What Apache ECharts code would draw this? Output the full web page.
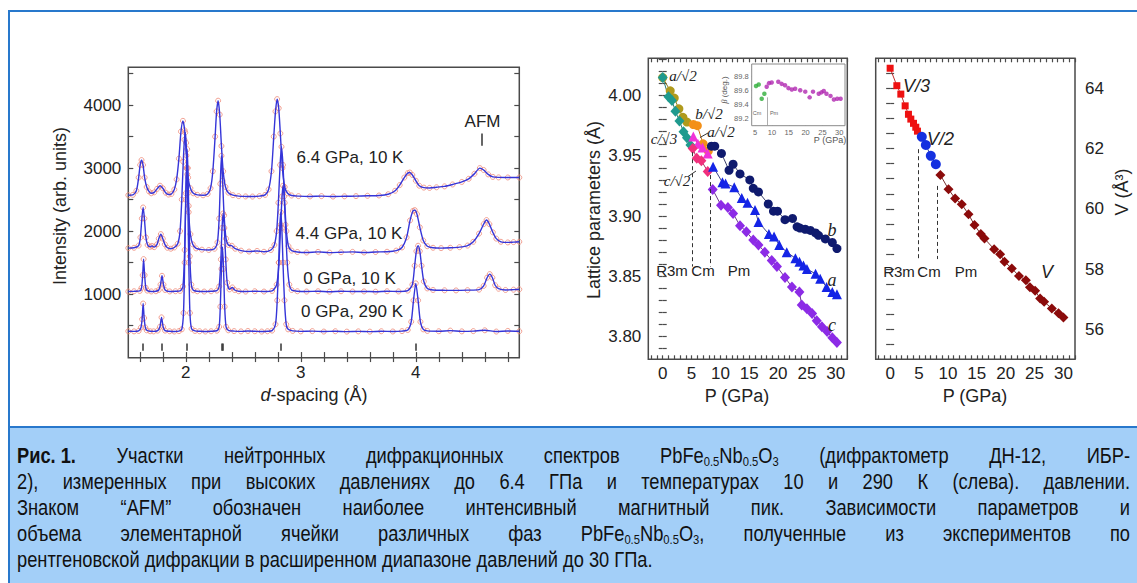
<!DOCTYPE html>
<html><head><meta charset="utf-8">
<script src="https://cdn.jsdelivr.net/npm/echarts@6/dist/echarts.min.js"></script>
<style>
html,body{margin:0;padding:0;background:#fff;width:1137px;height:583px;overflow:hidden;}
#frame{position:absolute;left:8px;top:10px;width:1140px;height:600px;border:2px solid #2878cc;box-sizing:border-box;}
#chart{position:absolute;left:0;top:0;width:1137px;height:425px;}
#cap{position:absolute;left:8px;top:426px;width:1140px;height:170px;background:#a3cff8;border-top:2px solid #2878cc;border-left:2px solid #2878cc;box-sizing:border-box;padding:15px 0 0 7px;font-family:"Liberation Sans",Arial,sans-serif;font-size:22px;line-height:26px;color:#111;}
#capin{width:1341px;transform:scaleX(0.83);transform-origin:0 0;}
.l{width:1341px;text-align:justify;text-align-last:justify;}
.last{width:1341px;text-align:left;}
.ib{display:inline-block;}
sub{font-size:13.5px;vertical-align:-3px;line-height:0;}
</style></head>
<body>
<div id="frame"></div>
<div id="chart"></div>
<div id="cap"><div id="capin">
<div class="l"><b class="ib">Рис. 1.</b> Участки нейтронных дифракционных спектров PbFe<sub>0.5</sub>Nb<sub>0.5</sub>O<sub>3</sub> (дифрактометр ДН-12, ИБР-</div>
<div class="l">2), измеренных при высоких давлениях до 6.4 ГПа и температурах 10 и 290 К (слева). давлении.</div>
<div class="l">Знаком “AFM” обозначен наиболее интенсивный магнитный пик. Зависимости параметров и</div>
<div class="l">объема элементарной ячейки различных фаз PbFe<sub>0.5</sub>Nb<sub>0.5</sub>O<sub>3</sub>, полученные из экспериментов по</div>
<div class="last">рентгеновской дифракции в расширенном диапазоне давлений до 30 ГПа.</div>
</div></div>
<script>
// ---------- Left panel: neutron diffraction profiles, [d-spacing (Å), intensity] ----------
const prof290K = [[1.50,410],[1.55,408],[1.59,415],[1.61,470],[1.62,600],[1.629,850],[1.638,620],[1.648,470],[1.66,425],[1.69,410],[1.72,408],[1.755,420],[1.775,480],[1.789,630],[1.803,480],[1.82,420],[1.86,410],[1.90,406],[1.94,412],[1.965,440],[1.98,700],[1.99,1500],[2.0,2600],[2.008,3000],[2.016,2600],[2.026,1500],[2.036,700],[2.05,450],[2.08,415],[2.12,410],[2.17,406],[2.22,410],[2.27,418],[2.29,480],[2.30,800],[2.31,1400],[2.319,1750],[2.328,1400],[2.338,800],[2.35,480],[2.37,425],[2.42,412],[2.48,408],[2.54,414],[2.6,410],[2.66,405],[2.71,410],[2.75,420],[2.78,520],[2.795,900],[2.808,1500],[2.817,2050],[2.826,2300],[2.835,2050],[2.845,1500],[2.858,900],[2.873,520],[2.89,440],[2.93,415],[3.0,408],[3.1,412],[3.2,405],[3.3,410],[3.4,404],[3.5,408],[3.6,404],[3.7,410],[3.8,406],[3.88,412],[3.93,430],[3.96,560],[3.98,900],[4.0,1170],[4.02,900],[4.04,560],[4.065,440],[4.1,415],[4.2,410],[4.3,420],[4.4,408],[4.5,412],[4.6,425],[4.7,405],[4.8,415],[4.9,410]];
const prof0GPa10K = [[1.50,1040],[1.55,1045],[1.60,1050],[1.615,1100],[1.625,1300],[1.633,1555],[1.642,1300],[1.652,1100],[1.665,1055],[1.70,1042],[1.74,1045],[1.765,1065],[1.78,1150],[1.793,1290],[1.806,1150],[1.82,1065],[1.86,1042],[1.91,1045],[1.95,1050],[1.975,1120],[1.99,1700],[2.0,2500],[2.006,3000],[2.012,3300],[2.018,3000],[2.025,2400],[2.035,1600],[2.048,1150],[2.065,1060],[2.1,1045],[2.16,1040],[2.22,1045],[2.27,1055],[2.29,1120],[2.305,1550],[2.315,2050],[2.325,2280],[2.335,2050],[2.347,1550],[2.36,1180],[2.38,1075],[2.405,1105],[2.425,1065],[2.46,1045],[2.52,1040],[2.6,1045],[2.68,1040],[2.75,1050],[2.79,1150],[2.81,1500],[2.825,2100],[2.837,2550],[2.846,2720],[2.855,2550],[2.867,2100],[2.882,1500],[2.9,1150],[2.92,1065],[2.97,1045],[3.05,1040],[3.15,1045],[3.25,1038],[3.35,1045],[3.45,1040],[3.55,1042],[3.65,1038],[3.75,1045],[3.85,1042],[3.93,1055],[3.97,1150],[3.99,1450],[4.005,1680],[4.02,1767],[4.035,1680],[4.05,1450],[4.07,1200],[4.1,1090],[4.15,1065],[4.25,1060],[4.35,1058],[4.45,1062],[4.55,1070],[4.59,1130],[4.62,1260],[4.643,1317],[4.666,1260],[4.69,1140],[4.72,1085],[4.78,1065],[4.85,1070],[4.9,1075]];
const prof44GPa10K = [[1.50,1730],[1.55,1735],[1.59,1770],[1.605,1900],[1.618,2200],[1.629,2375],[1.64,2200],[1.653,1900],[1.668,1780],[1.69,1750],[1.705,1765],[1.725,1745],[1.75,1790],[1.765,1880],[1.783,1952],[1.80,1880],[1.818,1790],[1.84,1735],[1.87,1720],[1.90,1740],[1.93,1800],[1.95,2000],[1.965,2500],[1.978,3100],[1.988,3450],[1.995,3565],[2.003,3400],[2.013,2900],[2.025,2300],[2.04,1950],[2.06,1790],[2.09,1725],[2.14,1705],[2.2,1700],[2.25,1720],[2.275,1820],[2.29,2200],[2.3,2750],[2.31,3195],[2.32,2800],[2.333,2250],[2.35,1880],[2.37,1780],[2.4,1767],[2.43,1720],[2.48,1690],[2.55,1675],[2.62,1685],[2.68,1672],[2.74,1700],[2.77,1780],[2.79,2000],[2.805,2450],[2.82,3050],[2.832,3338],[2.845,3050],[2.86,2450],[2.875,2000],[2.893,1760],[2.92,1690],[2.97,1668],[3.05,1660],[3.15,1670],[3.25,1658],[3.35,1665],[3.45,1670],[3.55,1660],[3.65,1668],[3.75,1672],[3.83,1690],[3.88,1740],[3.92,1900],[3.95,2170],[3.975,2320],[3.991,2333],[4.01,2270],[4.035,2060],[4.065,1850],[4.1,1760],[4.15,1735],[4.22,1730],[4.3,1735],[4.38,1745],[4.45,1770],[4.5,1830],[4.55,1960],[4.59,2110],[4.615,2175],[4.64,2110],[4.67,1980],[4.7,1880],[4.74,1830],[4.8,1820],[4.85,1825],[4.9,1830]];
const prof64GPa10K = [[1.50,2570],[1.54,2575],[1.57,2640],[1.59,2850],[1.603,3050],[1.615,3127],[1.628,3050],[1.642,2850],[1.66,2700],[1.68,2630],[1.70,2600],[1.725,2615],[1.75,2670],[1.776,2720],[1.80,2680],[1.825,2610],[1.85,2580],[1.875,2590],[1.9,2660],[1.92,2820],[1.94,3150],[1.958,3580],[1.975,3750],[1.99,3600],[2.005,3200],[2.02,2850],[2.04,2680],[2.065,2600],[2.1,2575],[2.15,2568],[2.19,2590],[2.215,2680],[2.235,2950],[2.255,3500],[2.268,3900],[2.281,4070],[2.295,3850],[2.31,3350],[2.325,2950],[2.345,2700],[2.37,2610],[2.41,2570],[2.46,2555],[2.52,2550],[2.58,2548],[2.64,2555],[2.69,2575],[2.72,2660],[2.745,2950],[2.765,3500],[2.78,3900],[2.794,4095],[2.808,3950],[2.822,3550],[2.84,3000],[2.86,2700],[2.885,2600],[2.92,2565],[2.98,2555],[3.08,2550],[3.18,2555],[3.28,2548],[3.38,2552],[3.48,2555],[3.58,2560],[3.68,2565],[3.76,2585],[3.82,2640],[3.86,2730],[3.9,2850],[3.93,2920],[3.948,2930],[3.97,2890],[4.0,2800],[4.03,2720],[4.07,2690],[4.12,2685],[4.18,2695],[4.25,2710],[4.32,2740],[4.4,2780],[4.46,2830],[4.51,2910],[4.557,3000],[4.59,2970],[4.63,2900],[4.67,2860],[4.72,2852],[4.8,2851],[4.9,2850]];
const braggD = [1.629,1.789,2.006,2.312,2.322,2.826,4.0];
const braggI = [100,216];
const afmD = 4.577, afmI = [3354,3549];
const xTickLabels0 = [2,3,4];
const yTickLabels0 = [1000,2000,3000,4000];

// ---------- Middle panel: lattice parameters (Å) vs P (GPa) ----------
const r3mA = [[0,4.015],[1.3,4.004],[2.0,3.998],[2.8,3.989],[3.5,3.982],[4.2,3.978]];      // a/√2
const r3mC = [[0,4.015],[1.0,3.999],[1.6,3.996],[2.2,3.987],[2.9,3.979],[3.6,3.970],[4.2,3.965],[4.8,3.959]]; // c/√3
const cmB = [[5.3,3.976],[6.0,3.975],[7.0,3.960],[7.9,3.954]];   // b/√2
const cmA = [[5.3,3.966],[6.1,3.960],[6.9,3.957],[7.8,3.952]];   // a/√2
const cmC = [[5.2,3.956],[5.9,3.948],[6.7,3.946],[7.8,3.937]];   // c/√2
const pmB = [[8.44,3.958],[9.02,3.958],[10.18,3.952],[11.5,3.938],[12.2,3.943],[13.4,3.935],[15.1,3.930],[15.7,3.923],[16.6,3.920],[18.3,3.910],[19.2,3.904],[19.9,3.904],[21.2,3.897],[22.5,3.898],[23.3,3.891],[23.8,3.890],[24.7,3.889],[25.6,3.888],[26.5,3.886],[27.0,3.884],[28.2,3.881],[29.4,3.878],[30.2,3.873]];
const pmA = [[8.73,3.941],[10.35,3.928],[10.9,3.927],[12.4,3.924],[13.7,3.915],[14.7,3.911],[16.0,3.905],[16.6,3.895],[18.4,3.885],[19.3,3.883],[20.2,3.876],[21.5,3.870],[23.0,3.865],[23.7,3.862],[24.4,3.859],[25.0,3.856],[26.5,3.852],[27.3,3.848],[28.4,3.841],[29.4,3.837],[30.2,3.835]];
const pmC = [[8.67,3.922],[10.1,3.909],[11.3,3.907],[12.2,3.902],[13.4,3.892],[14.5,3.887],[15.7,3.880],[16.6,3.876],[17.7,3.870],[18.9,3.863],[19.8,3.858],[21.2,3.849],[22.4,3.841],[23.7,3.837],[24.1,3.826],[25.0,3.823],[25.9,3.819],[26.7,3.813],[27.6,3.808],[28.5,3.804],[29.4,3.799],[30.2,3.795]];
const latPhaseLines = [[5.2,3.953,3.858],[8.3,3.934,3.858]];
const pTickLabels = [0,5,10,15,20,25,30];
const latTickLabels = [3.80,3.85,3.90,3.95,4.00];

// ---------- Inset: monoclinic angle beta (deg.) vs P ----------
const betaCm = [[5.28,89.66],[6.08,89.68],[6.97,89.48],[7.76,89.55]];
const betaPm = [[8.45,89.65],[9.14,89.70],[9.93,89.71],[11.9,89.72],[12.9,89.69],[13.9,89.67],[14.9,89.63],[15.9,89.61],[16.9,89.62],[18.4,89.60],[19.9,89.58],[21.2,89.50],[22.2,89.58],[23.9,89.55],[24.7,89.57],[25.4,89.59],[26.2,89.55],[27.4,89.52],[28.4,89.47],[29.4,89.48],[30.4,89.48]];
const insetXLabels = [5,10,15,20,25,30];
const insetYLabels = [89.2,89.4,89.6,89.8];

// ---------- Right panel: unit-cell volume (Å^3) vs P ----------
const volR3m = [[0,64.67],[1.16,64.09],[1.85,63.81],[2.6,63.42],[3.17,63.14],[3.58,62.98],[4.04,62.84],[4.44,62.71],[4.73,62.58]]; // V/3
const volCm = [[5.48,62.39],[6.18,62.12],[7.04,61.76],[7.91,61.48]]; // V/2
const volPm = [[8.7,61.12],[10.1,60.65],[11.25,60.34],[12.4,60.15],[13.56,59.82],[14.6,59.46],[15.7,59.16],[16.33,59.01],[18.0,58.66],[19.04,58.49],[19.8,58.24],[21.06,58.02],[22.3,57.77],[23.5,57.63],[24.2,57.39],[25.1,57.28],[25.96,57.02],[26.66,56.91],[27.99,56.69],[29.14,56.53],[30.0,56.39]]; // V
const volPhaseLines = [[4.9,61.98,58.33],[8.2,60.76,58.33]];
const volTickLabels = [56,58,60,62,64];

// ---------- build ----------
const SANS = '"Liberation Sans", Arial, sans-serif';
const SERIF = '"Liberation Serif", "Times New Roman", serif';
function seq(a,b,s){const r=[];const n=Math.round((b-a)/s);for(let i=0;i<=n;i++)r.push(+(a+i*s).toFixed(4));return r;}
const xAxis=[], yAxis=[];
function mk(list,g,min,max,position,ticks,tickLen,tickColor,labels,lab){
  list.push({type:'value',gridIndex:g,min:min,max:max,position:position,
    axisLine:{show:false},splitLine:{show:false},
    axisTick:{show:true,inside:true,length:tickLen,customValues:ticks,lineStyle:{color:tickColor,width:1.2}},
    axisLabel:labels?Object.assign({show:true,customValues:labels,color:'#222',fontFamily:SANS,fontSize:17,formatter:v=>String(v)},lab):{show:false}});
  return list.length-1;
}
const AX='#4a4a4a';
// grid 0
const tx0=seq(1.6,4.8,0.2), ty0=seq(500,4500,500);
const X0=mk(xAxis,0,1.5,4.9,'bottom',tx0,5,AX,xTickLabels0,{margin:6});
mk(xAxis,0,1.5,4.9,'top',tx0,5,AX,null);
const Y0=mk(yAxis,0,-10,4600,'left',ty0,5,AX,yTickLabels0,{margin:7});
mk(yAxis,0,-10,4600,'right',ty0,5,AX,null);
// grid 1
const tx1=seq(-2,32,1), ty1=seq(3.79,4.03,0.01);
const X1=mk(xAxis,1,-2.5,32,'bottom',tx1,4,AX,pTickLabels,{margin:6});
mk(xAxis,1,-2.5,32,'top',tx1,4,AX,null);
const Y1=mk(yAxis,1,3.781,4.031,'left',ty1,4,AX,latTickLabels,{margin:7,formatter:v=>(+v).toFixed(2)});
mk(yAxis,1,3.781,4.031,'right',ty1,4,AX,null);
// grid 2 inset
const tx2=[5,10,15,20,25,30], ty2=seq(89.2,89.9,0.1);
const X2=mk(xAxis,2,4,31.7,'bottom',tx2,3,'#888',insetXLabels,{margin:3,fontSize:7.5,color:'#666'});
mk(xAxis,2,4,31.7,'top',tx2,3,'#888',null);
const Y2=mk(yAxis,2,89.1,89.97,'left',ty2,3,'#888',insetYLabels,{margin:3,fontSize:7.5,color:'#666',formatter:v=>(+v).toFixed(1)});
mk(yAxis,2,89.1,89.97,'right',ty2,3,'#888',null);
// grid 3
const ty3=seq(55.5,64.5,0.5);
const X3=mk(xAxis,3,-2.5,32,'bottom',tx1,4,AX,pTickLabels,{margin:6});
mk(xAxis,3,-2.5,32,'top',tx1,4,AX,null);
mk(yAxis,3,55,65,'left',ty3,4,AX,null);
const Y3=mk(yAxis,3,55,65,'right',ty3,4,AX,volTickLabels,{margin:10});

const series=[];
function prof(data,extra){
  series.push({type:'scatter',xAxisIndex:X0,yAxisIndex:Y0,data:data,symbol:'circle',symbolSize:5,silent:true,z:2,
    itemStyle:{color:'rgba(0,0,0,0)',borderColor:'#ef8a78',borderWidth:1}});
  series.push(Object.assign({type:'line',xAxisIndex:X0,yAxisIndex:Y0,data:data,showSymbol:false,smooth:0.25,silent:true,z:3,
    lineStyle:{color:'#3535d8',width:1.4}},extra||{}));
}
prof(prof290K,{markLine:{silent:true,symbol:['none','none'],label:{show:false},lineStyle:{color:'#333',width:1.5,type:'solid'},
  data:braggD.map(d=>[{coord:[d,braggI[0]]},{coord:[d,braggI[1]]}]).concat([[{coord:[afmD,afmI[0]]},{coord:[afmD,afmI[1]]}]])}});
prof(prof0GPa10K); prof(prof44GPa10K); prof(prof64GPa10K);

function pts(xi,yi,data,symbol,size,color,lineColor,extra){
  series.push(Object.assign({type:'line',xAxisIndex:xi,yAxisIndex:yi,data:data,symbol:symbol,symbolSize:size,showAllSymbol:true,silent:true,
    itemStyle:{color:color},lineStyle:{color:lineColor,width:1},z:4},extra||{}));
}
function vlines(lines){return {silent:true,symbol:['none','none'],label:{show:false},lineStyle:{color:'#333',width:1,type:[4,3]},
  data:lines.map(l=>[{coord:[l[0],l[1]]},{coord:[l[0],l[2]]}])};}
pts(X1,Y1,r3mA,'circle',9,'#b09a1c','#8a7a20');
pts(X1,Y1,r3mC,'diamond',[10,11],'#1f9a8e','#2a7a72');
pts(X1,Y1,cmB,'circle',9,'#f39018','#c0701a');
pts(X1,Y1,cmA,'triangle',10,'#f032d8','#b02aa0');
pts(X1,Y1,cmC,'diamond',[10,11],'#f0307c','#b02a60',{markLine:vlines(latPhaseLines)});
pts(X1,Y1,pmB,'circle',9,'#0f1a6e','#3a3f6a');
pts(X1,Y1,pmA,'triangle',10,'#1424e6','#3a3f8a');
pts(X1,Y1,pmC,'diamond',[10,11],'#8c2be6','#6a3a8a');
// inset
series.push({type:'scatter',xAxisIndex:X2,yAxisIndex:Y2,data:betaCm,symbol:'circle',symbolSize:4.5,itemStyle:{color:'#2fae3a'},silent:true,z:5,
  markLine:{silent:true,symbol:['none','none'],label:{show:false},lineStyle:{color:'#999',width:0.8,type:'solid'},data:[[{coord:[8.6,89.1]},{coord:[8.6,89.5]}]]}});
series.push({type:'scatter',xAxisIndex:X2,yAxisIndex:Y2,data:betaPm,symbol:'circle',symbolSize:4.5,itemStyle:{color:'#b028b0'},silent:true,z:5});
// right
pts(X3,Y3,volR3m,'rect',7,'#ee1111','#c03030');
pts(X3,Y3,volCm,'circle',10,'#1430e0','#3040a0');
pts(X3,Y3,volPm,'diamond',[10,10],'#8b0b0b','#7a3030',{markLine:vlines(volPhaseLines)});

function txt(x,y,t,font,o){return Object.assign({type:'text',x:x,y:y,silent:true,z:100,style:Object.assign({text:t,font:font,fill:'#222',align:'center',verticalAlign:'middle'},o&&o.style||{})},o&&o.el||{});}
const F17=`17px ${SANS}`, F18=`18px ${SANS}`, F15=`15px ${SANS}`;
const ISER=`italic 15px ${SERIF}`;
const graphic=[
  txt(350,157,'6.4 GPa, 10 K',F17), txt(349,233,'4.4 GPa, 10 K',F17), txt(349.5,278,'0 GPa, 10 K',F17), txt(352,311.5,'0 GPa, 290 K',F17),
  txt(482.5,121.5,'AFM',F17),
  txt(60,206,'Intensity (arb. units)',F18,{el:{rotation:Math.PI/2}}),
  txt(314,395,'{i|d}-spacing (Å)',F18,{style:{rich:{i:{font:`italic 18px ${SANS}`,fill:'#222'}}}}),
  // middle
  txt(594,210,'Lattice parameters (Å)',F18,{el:{rotation:Math.PI/2}}),
  txt(737,396,'P (GPa)',F18),
  txt(672,270,'R3m',F15), txt(703,270,'Cm',F15), txt(739,270,'Pm',F15),
  txt(683,76,'a/√2',ISER), txt(709,114,'b/√2',ISER), txt(721,132,'a/√2',ISER), txt(664,139,'c/√3',ISER), txt(677,181,'c/√2',ISER),
  txt(832,230,'b',`italic 18px ${SERIF}`), txt(832,280,'a',`italic 18px ${SERIF}`), txt(832,325,'c',`italic 18px ${SERIF}`),
  {type:'line',silent:true,z:100,shape:{x1:708,y1:133,x2:700,y2:137.5},style:{stroke:'#333',lineWidth:1}},
  {type:'line',silent:true,z:100,shape:{x1:688,y1:176.5,x2:696,y2:171},style:{stroke:'#333',lineWidth:1}},
  // inset
  txt(724,90,'{i|β} (deg.)',`8px ${SANS}`,{el:{rotation:Math.PI/2},style:{fill:'#555',rich:{i:{font:`italic 8px ${SERIF}`,fill:'#555'}}}}),
  txt(830,140,'P (GPa)',`9px ${SANS}`,{style:{fill:'#555'}}),
  txt(757,113.3,'Cm',`5.5px ${SANS}`,{style:{fill:'#666'}}), txt(774,113.3,'Pm',`5.5px ${SANS}`,{style:{fill:'#666'}}),
  // right
  txt(1122,192,'V (Å³)',F18,{el:{rotation:Math.PI/2}}),
  txt(975,396,'P (GPa)',F18),
  txt(899,271.5,'R3m',F15), txt(929,271.5,'Cm',F15), txt(966,271.5,'Pm',F15),
  txt(916.5,86,'V/3',`italic 18px ${SANS}`), txt(940.5,139,'V/2',`italic 18px ${SANS}`), txt(1047,271.5,'V',`italic 18px ${SANS}`)
];

const chart=echarts.init(document.getElementById('chart'),null,{renderer:'svg'});
chart.setOption({
  animation:false,
  backgroundColor:'transparent',
  grid:[
    {left:128.3,top:67.3,width:391,height:290.4,show:true,borderColor:AX,borderWidth:1.5},
    {left:648.3,top:58.3,width:199,height:301,show:true,borderColor:AX,borderWidth:1.5},
    {left:751.7,top:64,width:93.3,height:61.7,show:true,borderColor:'#8a8a8a',borderWidth:1,backgroundColor:'#fff',z:3},
    {left:875.7,top:58.3,width:199.3,height:301,show:true,borderColor:AX,borderWidth:1.5}
  ],
  xAxis:xAxis, yAxis:yAxis, series:series, graphic:graphic
});
</script>
</body></html>
